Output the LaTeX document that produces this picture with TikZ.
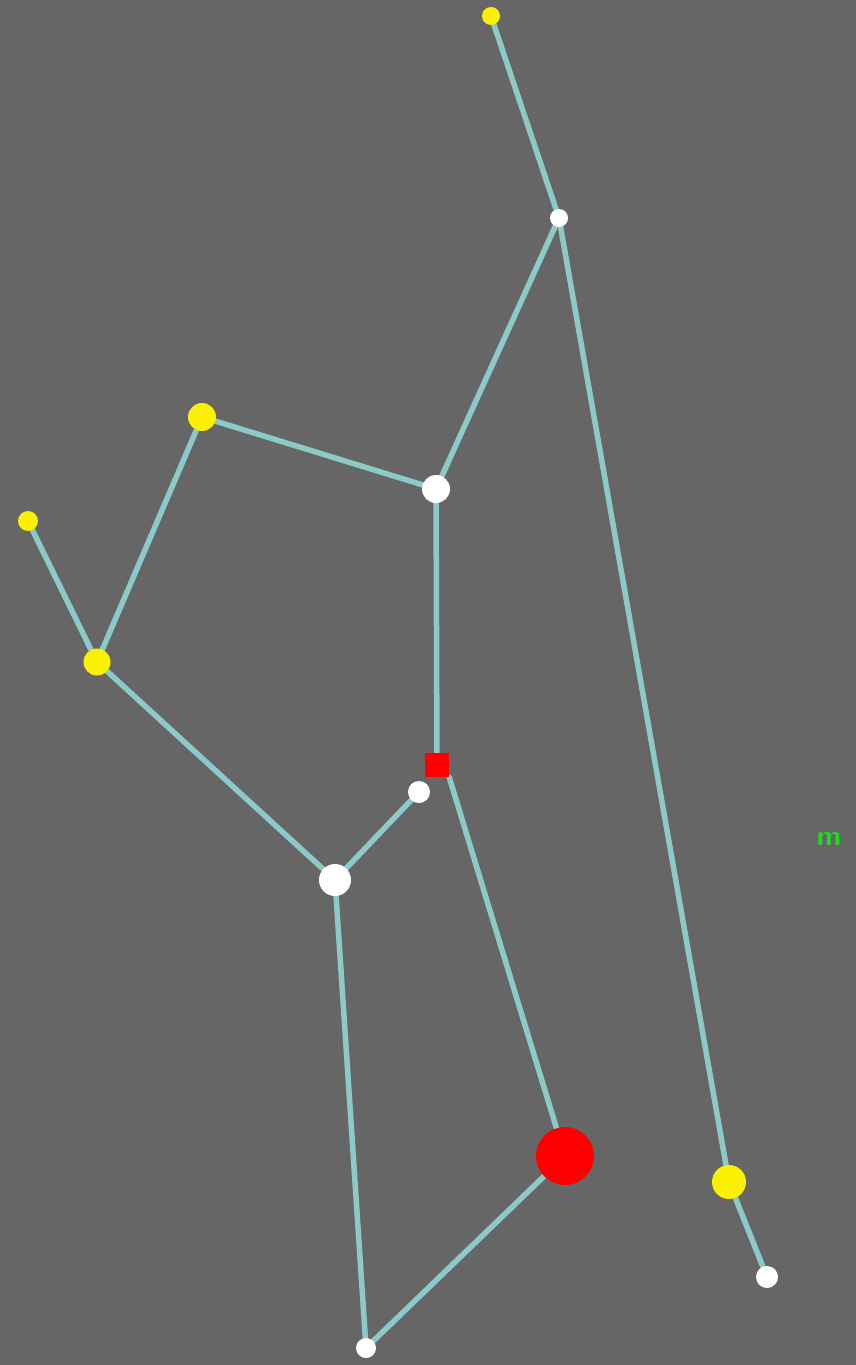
\documentclass[tikz,border=0pt]{standalone}
\usepackage{tikz}
\usetikzlibrary{backgrounds}
\definecolor{bggray}{RGB}{102,102,102}
\definecolor{linkcyan}{RGB}{140,202,202}
\definecolor{dotyellow}{RGB}{250,240,0}
\definecolor{dotred}{RGB}{255,0,0}
\definecolor{labelgreen}{RGB}{30,220,30}
\tikzset{
  junction/.style={circle, fill=white, inner sep=0pt, minimum size=#1},
  terminal/.style={circle, fill=dotyellow, inner sep=0pt, minimum size=#1},
  source/.style={circle, fill=dotred, inner sep=0pt, minimum size=#1},
  sourcebox/.style={rectangle, fill=dotred, inner sep=0pt, minimum size=#1},
  link/.style={draw=linkcyan, line width=5.5pt, line cap=round},
  tag/.style={text=labelgreen, font=\sffamily\bfseries\fontsize{28}{28}\selectfont}
}
\begin{document}
\begin{tikzpicture}[x=1pt, y=-1pt]
    \useasboundingbox (0,0) rectangle (856,1365);

    \node[terminal=18pt] (top) at (491,16) {};
    \node[junction=18pt] (fork) at (559,218) {};
    \node[junction=28pt] (mid) at (436,489) {};
    \node[terminal=28pt] (upleft) at (202,417) {};
    \node[terminal=20pt] (farleft) at (28,521) {};
    \node[terminal=27pt] (left) at (97,662) {};
    \node[sourcebox=24pt] (gate) at (437,765) {};
    \node[junction=22pt] (tap) at (419,792) {};
    \node[junction=32pt] (low) at (335,880) {};
    \node[source=58pt] (tank) at (565,1156) {};
    \node[junction=20pt] (bottom) at (366,1348) {};
    \node[terminal=34pt] (right) at (729,1182) {};
    \node[junction=22pt] (end) at (767,1277) {};
    \node[tag] (lbl) at (829,839) {m};

    \begin{scope}[on background layer]
    \fill[bggray] (0,0) rectangle (856,1365);
    \draw[link] (top) -- (fork);
    \draw[link] (fork) -- (mid);
    \draw[link] (fork) -- (right);
    \draw[link] (right) -- (end);
    \draw[link] (upleft) -- (mid);
    \draw[link] (upleft) -- (left);
    \draw[link] (farleft) -- (left);
    \draw[link] (mid) -- (gate);
    \draw[link] (left) -- (low);
    \draw[link] (low) -- (tap);
    \draw[link] (gate.south east) -- (tank);
    \draw[link] (low) -- (bottom);
    \draw[link] (tank) -- (bottom);
    \end{scope}
\end{tikzpicture}
\end{document}
